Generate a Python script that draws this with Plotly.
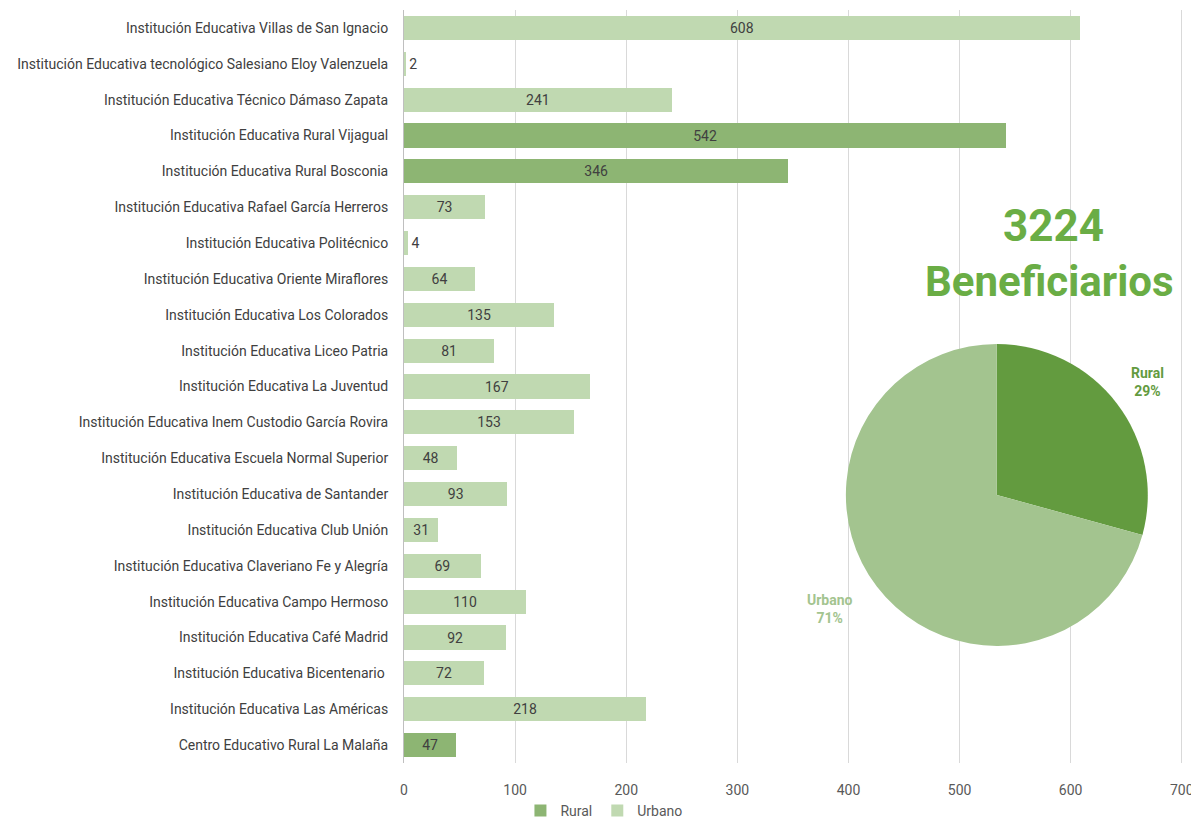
import plotly.graph_objects as go

categories = [
    "Institución Educativa Villas de San Ignacio",
    "Institución Educativa tecnológico Salesiano Eloy Valenzuela",
    "Institución Educativa Técnico Dámaso Zapata",
    "Institución Educativa Rural Vijagual",
    "Institución Educativa Rural Bosconia",
    "Institución Educativa Rafael García Herreros",
    "Institución Educativa Politécnico",
    "Institución Educativa Oriente Miraflores",
    "Institución Educativa Los Colorados",
    "Institución Educativa Liceo Patria",
    "Institución Educativa La Juventud",
    "Institución Educativa Inem Custodio García Rovira",
    "Institución Educativa Escuela Normal Superior",
    "Institución Educativa de Santander",
    "Institución Educativa Club Unión",
    "Institución Educativa Claveriano Fe y Alegría",
    "Institución Educativa Campo Hermoso",
    "Institución Educativa Café Madrid",
    "Institución Educativa Bicentenario ",
    "Institución Educativa Las Américas",
    "Centro Educativo Rural La Malaña",
]
values = [608, 2, 241, 542, 346, 73, 4, 64, 135, 81, 167, 153, 48, 93, 31, 69, 110, 92, 72, 218, 47]
zone = ["Urbano", "Urbano", "Urbano", "Rural", "Rural", "Urbano", "Urbano", "Urbano", "Urbano",
        "Urbano", "Urbano", "Urbano", "Urbano", "Urbano", "Urbano", "Urbano", "Urbano", "Urbano",
        "Urbano", "Urbano", "Rural"]
x_ticks = [0, 100, 200, 300, 400, 500, 600, 700]
total_label = "3224"
subtitle = "Beneficiarios"

bar_colors = {"Rural": "#8DB573", "Urbano": "#C0D9B1"}
pie_colors = {"Rural": "#639B3F", "Urbano": "#A3C48F"}

FONT = "Roboto, sans-serif"
OFF = 8  # page body margin offset
X_MAX = 702  # slightly beyond 700 so the 700 gridline is drawn
PX_PER_UNIT = (1182 - 404) / 700
W, H = 1199 - OFF, 827 - 2 * OFF
ml = 404 - OFF
mt = 10 - OFF
plot_right = 404 + X_MAX * PX_PER_UNIT - OFF
mr = W - plot_right
mb = H - (763 - OFF)
pw, ph = W - ml - mr, H - mt - mb

def px_x(x):
    return (x - OFF - ml) / pw

def px_y(y):
    return (H - mb - (y - OFF)) / ph

fig = go.Figure()
for z in ["Rural", "Urbano"]:
    xs = [v if zz == z else None for v, zz in zip(values, zone)]
    fig.add_trace(go.Bar(
        y=categories, x=xs, orientation="h", name=z,
        marker=dict(color=bar_colors[z], line=dict(width=0)),
        text=[str(v) if v is not None else "" for v in xs],
        textposition="auto", insidetextanchor="middle",
        textfont=dict(color="#404040", size=14, family=FONT),
        outsidetextfont=dict(color="#404040", size=14, family=FONT),
        cliponaxis=False, width=0.67,
        hoverinfo="x+y",
    ))

rural_total = sum(v for v, z in zip(values, zone) if z == "Rural")
urban_total = sum(v for v, z in zip(values, zone) if z == "Urbano")
pie_labels = ["Rural", "Urbano"]
pie_values = [rural_total, urban_total]

px0, px1 = 846, 1148
py0, py1 = 344, 646
fig.add_trace(go.Pie(
    labels=pie_labels, values=pie_values, sort=False, direction="clockwise", rotation=0,
    marker=dict(colors=[pie_colors[l] for l in pie_labels], line=dict(width=0)),
    textinfo="none", showlegend=False,
    domain=dict(x=[px_x(px0), px_x(px1)], y=[px_y(py1), px_y(py0)]),
))

tot = sum(pie_values)
pct = [round(v / tot * 100) for v in pie_values]

def note(x, y, text, color, size):
    fig.add_annotation(x=px_x(x), y=px_y(y), xref="paper", yref="paper",
                       xanchor="center", yanchor="middle", text=text, showarrow=False,
                       font=dict(color=color, size=size, family=FONT))

note(1148, 382, f"<b>Rural<br>{pct[0]}%</b>", pie_colors["Rural"], 14)
note(830, 609, f"<b>Urbano<br>{pct[1]}%</b>", pie_colors["Urbano"], 14)
note(1054, 226, f"<b>{total_label}</b>", "#6AAD45", 44)
note(1050, 281, f"<b>{subtitle}</b>", "#6AAD45", 42)

fig.update_layout(
    width=W, height=H, margin=dict(l=ml, r=mr, t=mt, b=mb, autoexpand=False),
    paper_bgcolor="white", plot_bgcolor="white",
    barmode="stack", bargap=0.33,
    font=dict(family=FONT, color="#404040"),
    xaxis=dict(range=[0, X_MAX], tickvals=x_ticks, showgrid=True, gridcolor="#D9D9D9", gridwidth=1,
               zeroline=False, showline=False, ticks="outside", ticklen=14, tickcolor="rgba(0,0,0,0)",
               automargin=False, ticklabeloverflow="allow", tickfont=dict(size=14, color="#595959")),
    yaxis=dict(autorange=False, range=[20.5, -0.5], showline=True, linecolor="#BFBFBF", linewidth=1,
               ticks="outside", ticklen=12, tickcolor="rgba(0,0,0,0)", automargin=False,
               tickfont=dict(size=14, color="#404040"), showgrid=False),
    legend=dict(orientation="h", x=px_x(604), xanchor="center", y=px_y(811), yanchor="middle",
                traceorder="normal", font=dict(size=14, color="#595959")),
)

fig.write_html("out.html")
